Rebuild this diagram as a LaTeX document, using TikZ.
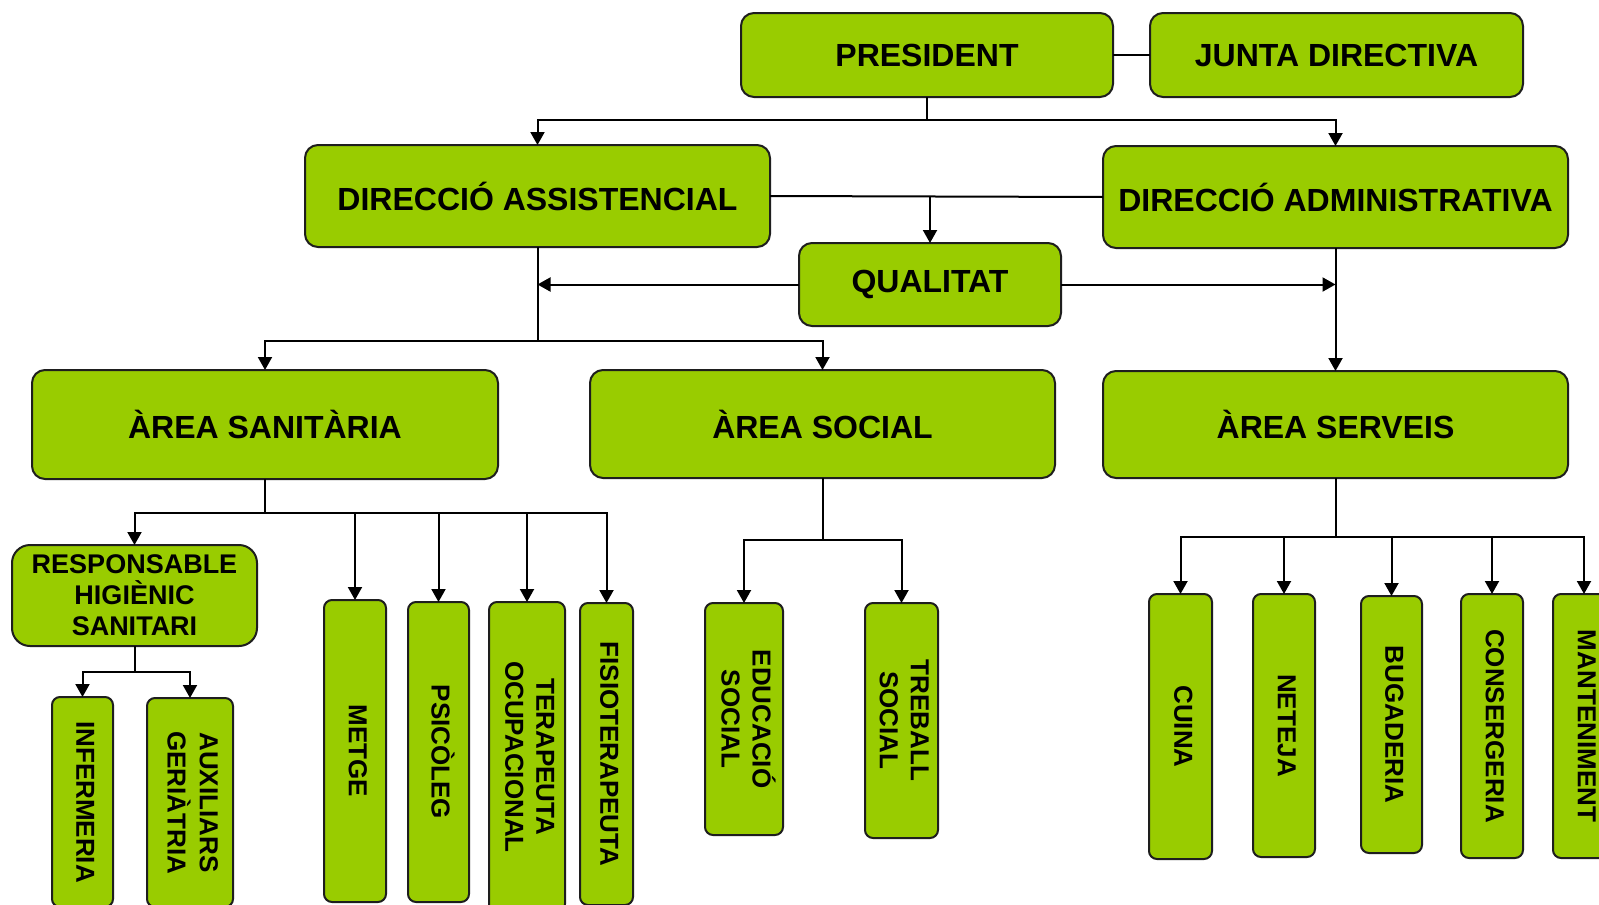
\documentclass[tikz,border=0pt]{standalone}
\usepackage{fontspec}
\setmainfont{Liberation Sans}
\usepackage{graphicx}
\usetikzlibrary{arrows.meta}
\definecolor{boxgreen}{RGB}{153,204,0}
\definecolor{boxline}{RGB}{30,30,30}
\newcommand{\vtext}[1]{\rotatebox[origin=c]{-90}{\begin{tabular}{@{}c@{}}#1\end{tabular}}}
\begin{document}
\begin{tikzpicture}[x=1pt,y=-1pt,
  box/.style={draw=boxline, line width=2pt, fill=boxgreen, rounded corners=13pt,
    inner sep=0pt, outer sep=0pt, align=center,
    font=\fontsize{32}{36}\selectfont\bfseries},
  vbox/.style={box, rounded corners=8pt, font=\fontsize{26}{31}\selectfont\bfseries},
  conn/.style={line width=2pt, draw=black},
  arr/.style={conn, -{Triangle[length=13pt,width=14pt]}}]
\useasboundingbox (0,0) rectangle (1599,905);
\clip (0,0) rectangle (1599,905);
\fill[white] (0,0) rectangle (1599,905);

% top levels
\node[box, minimum width=372pt, minimum height=84pt] (pres) at (927,55) {PRESIDENT};
\node[box, minimum width=373pt, minimum height=84pt] (junta) at (1336.5,55) {JUNTA DIRECTIVA};
\node[box, minimum width=465pt, minimum height=102pt] (dass) at (537.5,196) {DIRECCIÓ ASSISTENCIAL};
\node[box, minimum width=465pt, minimum height=102pt] (dadm) at (1335.5,197) {DIRECCIÓ ADMINISTRATIVA};
\node[box, minimum width=262pt, minimum height=83pt] (qual) at (930,284.5) {QUALITAT};
\node[box, minimum width=466pt, minimum height=109pt] (asan) at (265,424.5) {ÀREA SANITÀRIA};
\node[box, minimum width=465pt, minimum height=108pt] (asoc) at (822.5,424) {ÀREA SOCIAL};
\node[box, minimum width=465pt, minimum height=107pt] (aser) at (1335.5,424.5) {ÀREA SERVEIS};

% sanitaria
\node[box, rounded corners=18pt, font=\fontsize{27}{31}\selectfont\bfseries,
  minimum width=245pt, minimum height=101pt] (resp) at (134.5,595.5) {RESPONSABLE\\HIGIÈNIC\\SANITARI};
\node[vbox, minimum width=61pt, minimum height=210pt] (inf) at (82.5,802) {\vtext{INFERMERIA}};
\node[vbox, minimum width=86pt, minimum height=209pt] (aux) at (190,802.5) {\vtext{AUXILIARS\\GERIÀTRIA}};
\node[vbox, minimum width=62pt, minimum height=302pt] (metge) at (355,751) {\vtext{METGE}};
\node[vbox, minimum width=61pt, minimum height=300pt] (psi) at (438.5,752) {\vtext{PSICÒLEG}};
\node[vbox, minimum width=76pt, minimum height=310pt] (ter) at (527,757) {\vtext{TERAPEUTA\\OCUPACIONAL}};
\node[vbox, minimum width=53pt, minimum height=302pt] (fis) at (606.5,754) {\vtext{FISIOTERAPEUTA}};

% social
\node[vbox, minimum width=78pt, minimum height=232pt] (edu) at (744,719) {\vtext{EDUCACIÓ\\SOCIAL}};
\node[vbox, minimum width=73pt, minimum height=235pt] (treb) at (901.5,720.5) {\vtext{TREBALL\\SOCIAL}};

% serveis
\node[vbox, minimum width=63pt, minimum height=265pt] (cuina) at (1180.5,726.5) {\vtext{CUINA}};
\node[vbox, minimum width=62pt, minimum height=263pt] (neteja) at (1284,725.5) {\vtext{NETEJA}};
\node[vbox, minimum width=61pt, minimum height=257pt] (buga) at (1391.5,724.5) {\vtext{BUGADERIA}};
\node[vbox, minimum width=62pt, minimum height=264pt] (cons) at (1492,726) {\vtext{CONSERGERIA}};
\node[vbox, minimum width=62pt, minimum height=264pt] (mant) at (1584,726) {\vtext{MANTENIMENT}};

% junction coordinates
\coordinate (j1) at (927,120);
\coordinate (j3) at (537.5,341);
\coordinate (j4) at (265,513);
\coordinate (j5) at (134.5,672);
\coordinate (j6) at (822.5,540);
\coordinate (j7) at (1335.5,537);

% connectors
\draw[conn] (pres.east) -- (junta.west);
\draw[conn] (pres.south) -- (j1);
\draw[arr] (j1) -| (dass.north);
\draw[arr] (j1) -| (dadm.north);
\draw[conn] (dass.east) -- (dadm.west);
\coordinate (j2) at (qual.north |- dass.east);
\draw[arr] (j2) -- (qual.north);
\draw[arr] (qual.west) -- (dass.south |- qual.west);
\draw[arr] (qual.east) -- (dadm.south |- qual.east);
\draw[conn] (dass.south) -- (j3);
\draw[arr] (j3) -| (asan.north);
\draw[arr] (j3) -| (asoc.north);
\draw[arr] (dadm.south) -- (aser.north);

\draw[conn] (asan.south) -- (j4);
\foreach \t in {resp,metge,psi,ter,fis} \draw[arr] (j4) -| (\t.north);
\draw[conn] (resp.south) -- (j5);
\foreach \t in {inf,aux} \draw[arr] (j5) -| (\t.north);

\draw[conn] (asoc.south) -- (j6);
\foreach \t in {edu,treb} \draw[arr] (j6) -| (\t.north);

\draw[conn] (aser.south) -- (j7);
\foreach \t in {cuina,neteja,buga,cons,mant} \draw[arr] (j7) -| (\t.north);
\end{tikzpicture}
\end{document}
